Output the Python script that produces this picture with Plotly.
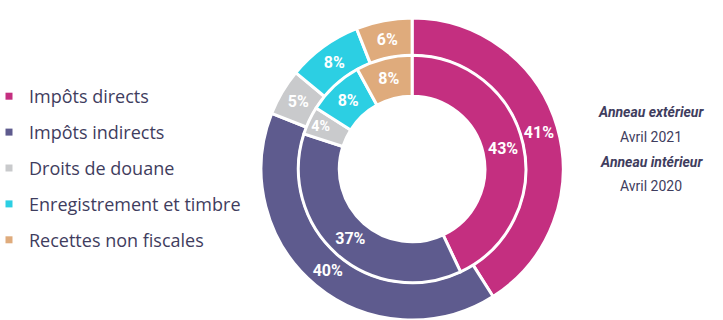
import plotly.graph_objects as go

categories = ["Impôts directs", "Impôts indirects", "Droits de douane",
              "Enregistrement et timbre", "Recettes non fiscales"]
outer_2021 = [41, 40, 5, 8, 6]
inner_2020 = [43, 37, 4, 8, 8]
colors = ["#C42F80", "#5E5B8E", "#C9CACC", "#2CCFE3", "#DFAB7C"]

TEXT = "#3F3D5E"

fig = go.Figure()

fig.add_trace(go.Pie(
    labels=categories, values=outer_2021, sort=False, direction="clockwise",
    rotation=0, hole=0.75, showlegend=False,
    marker=dict(colors=colors, line=dict(color="white", width=3)),
    texttemplate="<b>%{value}%</b>", textposition="inside", insidetextorientation="horizontal",
    textfont=dict(color="white", size=16, family="Roboto"),
    domain=dict(x=[0.2, 0.94], y=[0, 0.944]),
))
fig.add_trace(go.Pie(
    labels=categories, values=inner_2020, sort=False, direction="clockwise",
    rotation=0, hole=0.64, showlegend=False,
    marker=dict(colors=colors, line=dict(color="white", width=3)),
    texttemplate="<b>%{value}%</b>", textposition="inside", insidetextorientation="horizontal",
    textfont=dict(color="white", size=16, family="Roboto"),
    domain=dict(x=[0.2, 0.94], y=[0.1165, 0.8275]),
))

for i, (c, col) in enumerate(zip(categories, colors)):
    fig.add_trace(go.Scatter(
        x=[None], y=[None], mode="markers", name=c, legendgroup=f"g{i}",
        marker=dict(symbol="square", size=7, color=col),
    ))

fig.update_xaxes(visible=False)
fig.update_yaxes(visible=False)

ann = [("<b><i>Anneau extérieur</i></b>", 112), ("Avril 2021", 137),
       ("<b><i>Anneau intérieur</i></b>", 162), ("Avril 2020", 186)]
for txt, ypx in ann:
    fig.add_annotation(x=651 / 723, y=1 - ypx / 320, xref="paper", yref="paper",
                       xanchor="center", yanchor="middle",
                       text=txt, showarrow=False,
                       font=dict(size=14, color=TEXT, family="Roboto"))

fig.update_layout(
    width=723, height=320,
    margin=dict(l=0, r=0, t=0, b=0, autoexpand=False),
    paper_bgcolor="white", plot_bgcolor="white",
    legend=dict(x=-11 / 723, y=1 - 78 / 320, xanchor="left", yanchor="top",
                font=dict(size=18, color=TEXT, family="Open Sans"),
                tracegroupgap=9.5, itemclick=False, itemdoubleclick=False),
)

fig.write_html("out.html")
